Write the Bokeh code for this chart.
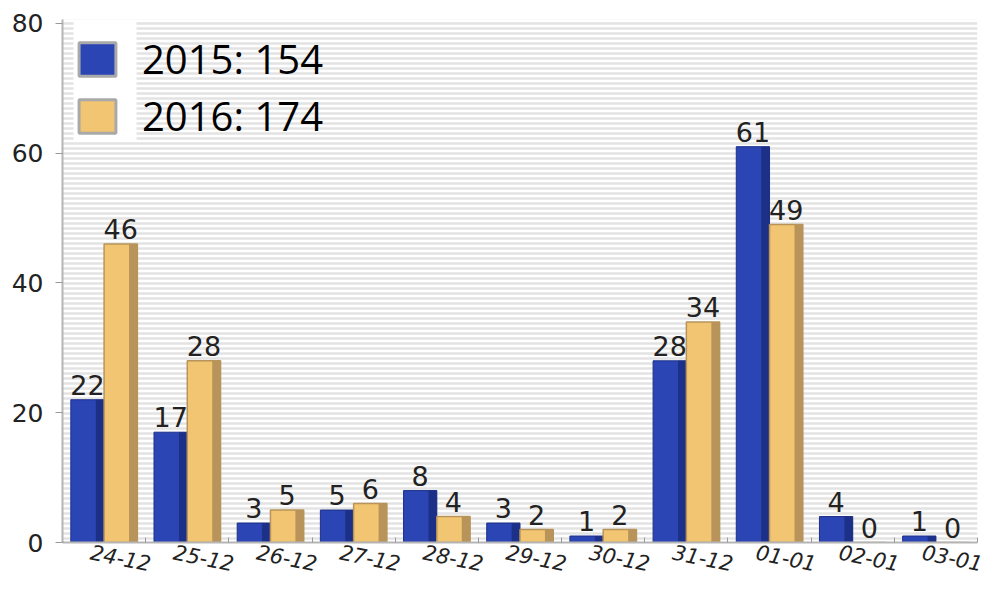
import numpy as np
from bokeh.plotting import figure
from bokeh.models import (ColumnDataSource, Range1d, FixedTicker, BoxAnnotation,
                          Legend, LegendItem)
from bokeh.transform import dodge
from bokeh.core.properties import value
from bokeh.embed import file_html
from bokeh.resources import INLINE

# ---------------- data ----------------
categories = ["24-12", "25-12", "26-12", "27-12", "28-12", "29-12",
              "30-12", "31-12", "01-01", "02-01", "03-01"]
values_2015 = [22, 17, 3, 5, 8, 3, 1, 28, 61, 4, 1]
values_2016 = [46, 28, 5, 6, 4, 2, 2, 34, 49, 0, 0]
series_names = ["2015", "2016"]
series_totals = [154, 174]
y_ticks = [0, 20, 40, 60, 80]

# ---------------- styling ----------------
BLUE = "#2b45b5"
BLUE_DARK = "#1d3088"
YEL = "#f2c572"
YEL_DARK = "#b8945a"
LABEL_SHIFT = 0.16   # slanted labels start a little left of the group centre

n = len(categories)
centers = [i + 0.5 for i in range(n)]
boundaries = list(range(n + 1))
label_pos = [c - LABEL_SHIFT for c in centers]

src = ColumnDataSource(dict(
    x=centers,
    y15=values_2015,
    y16=values_2016,
    t15=[str(v) for v in values_2015],
    t16=[str(v) for v in values_2016],
))

p = figure(width=985, height=582, output_backend="svg", toolbar_location=None,
           x_range=Range1d(0, n), y_range=Range1d(0, 80.6),
           min_border_left=62, min_border_right=8, min_border_top=19,
           min_border_bottom=10)
# ranges that place the legend-only swatch renderers outside the frame
p.extra_x_ranges = {"legend_only": Range1d(2 * n, 3 * n)}
p.extra_y_ranges = {"legend_only": Range1d(1000, 2000)}
p.outline_line_color = None
p.xgrid.visible = False
p.ygrid.visible = False
p.background_fill_color = "white"
p.border_fill_color = "white"

# striped background
stripes = BoxAnnotation(fill_color="white", fill_alpha=1.0,
                        hatch_pattern="horizontal_line", hatch_color="#e3e3e3",
                        hatch_scale=5, hatch_weight=2.5, line_color=None,
                        level="underlay")
p.add_layout(stripes)

# white panel behind the legend swatches
swatch_panel = BoxAnnotation(left=73, right=136, top=21, bottom=140,
                             left_units="canvas", right_units="canvas",
                             top_units="canvas", bottom_units="canvas",
                             fill_color="white", fill_alpha=1.0, line_color=None,
                             level="underlay")
p.add_layout(swatch_panel)

# bars
p.vbar(x=dodge("x", -0.2), top="y15", width=0.4, bottom=0, source=src,
       fill_color=BLUE, line_color=BLUE_DARK, line_width=1)
p.vbar(x=dodge("x", -0.05), top="y15", width=0.1, bottom=0, source=src,
       fill_color=BLUE_DARK, line_color=None)
p.vbar(x=dodge("x", 0.2), top="y16", width=0.4, bottom=0, source=src,
       fill_color=YEL, line_color=YEL_DARK, line_width=1.5)
p.vbar(x=dodge("x", 0.35), top="y16", width=0.1, bottom=0, source=src,
       fill_color=YEL_DARK, line_color=None)

# value labels
for col, tcol, dx in (("y15", "t15", -0.2), ("y16", "t16", 0.2)):
    p.text(x=dodge("x", dx), y=col, text=tcol, source=src,
           text_align="center", text_baseline="bottom", y_offset=-5,
           text_font=value("DejaVu Sans"), text_font_size="27px",
           text_color="#222222")

# axes
ya = p.yaxis[0]
ya.ticker = FixedTicker(ticks=y_ticks)
ya.axis_line_color = "#b5b5b5"
ya.axis_line_width = 2
ya.major_tick_line_color = "#9a9a9a"
ya.major_tick_out = 7
ya.major_tick_in = 0
ya.minor_tick_line_color = None
ya.major_label_text_font = "DejaVu Sans"
ya.major_label_text_font_size = "25px"
ya.major_label_text_color = "#222222"
ya.major_label_standoff = 12

xa = p.xaxis[0]
xa.ticker = FixedTicker(ticks=label_pos, minor_ticks=boundaries)
xa.major_label_overrides = {pos: lab for pos, lab in zip(label_pos, categories)}
xa.axis_line_color = "#b5b5b5"
xa.axis_line_width = 2
xa.major_tick_line_color = None
xa.major_tick_out = 0
xa.major_tick_in = 0
xa.minor_tick_line_color = "#9a9a9a"
xa.minor_tick_out = 0
xa.minor_tick_in = 5
xa.major_label_orientation = -0.2
xa.major_label_text_font = "DejaVu Sans"
xa.major_label_text_font_style = "italic"
xa.major_label_text_font_size = "21px"
xa.major_label_text_color = "#222222"
xa.major_label_standoff = 9

# legend swatches (drawn only in the legend: their ranges are off-screen)
r15 = p.vbar(x="x", top="y15", width=0.4, source=src,
             x_range_name="legend_only", y_range_name="legend_only",
             fill_color=BLUE, line_color="#a9a9a9", line_width=3)
r16 = p.vbar(x="x", top="y16", width=0.4, source=src,
             x_range_name="legend_only", y_range_name="legend_only",
             fill_color=YEL, line_color="#a9a9a9", line_width=3)
legend = Legend(items=[
    LegendItem(label=f"{series_names[0]}: {series_totals[0]}", renderers=[r15]),
    LegendItem(label=f"{series_names[1]}: {series_totals[1]}", renderers=[r16]),
], location="top_left")
legend.label_text_font = "Open Sans"
legend.label_text_font_size = "40px"
legend.label_text_color = "#000000"
legend.glyph_width = 46
legend.glyph_height = 42
legend.label_standoff = 22
legend.spacing = 2
legend.padding = 8
legend.margin = 12
legend.background_fill_alpha = 0
legend.border_line_color = None
p.add_layout(legend)

open("out.html", "w").write(file_html(p, INLINE))
